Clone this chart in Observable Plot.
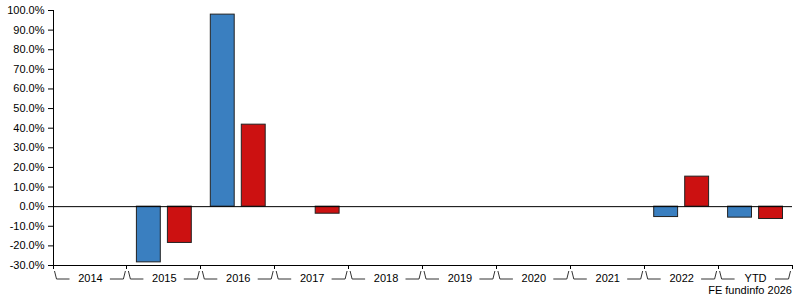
<!DOCTYPE html>
<html>
<head>
<meta charset="utf-8">
<script src="https://cdn.jsdelivr.net/npm/d3@7"></script>
<script src="https://cdn.jsdelivr.net/npm/@observablehq/plot@0.6"></script>
<style>
  body { margin: 0; background: #fff; font-family: "Liberation Sans", Arial, sans-serif; }
  #chart svg { display: block; }
  #caption { width: 795px; box-sizing: border-box; text-align: right; padding-right: 3px; font-size: 11px; line-height: 13px; color: #000; }
</style>
</head>
<body>
<div id="chart"></div>
<div id="caption">FE fundinfo 2026</div>
<script>
const categories = ["2014", "2015", "2016", "2017", "2018", "2019", "2020", "2021", "2022", "YTD"];
const fundValues = [null, -28.4, 97.9, null, null, null, null, null, -5.3, -5.6];
const sectorValues = [null, -18.5, 41.8, -3.6, null, null, null, null, 15.3, -6.3];
const yTicks = [-30, -20, -10, 0, 10, 20, 30, 40, 50, 60, 70, 80, 90, 100];

const fund = categories.map((c, i) => ({cat: c, v: fundValues[i]})).filter(d => d.v != null);
const sector = categories.map((c, i) => ({cat: c, v: sectorValues[i]})).filter(d => d.v != null);

const ns = "http://www.w3.org/2000/svg";
function decorations(index, scales, values, dims) {
  const g = document.createElementNS(ns, "g");
  const x = scales.x, y = scales.y;
  const bw = x.bandwidth ? x.bandwidth() : (x(categories[1]) - x(categories[0]));
  const y0 = y(-30), yTop = y(100);
  const left = x(categories[0]);
  const right = x(categories[categories.length - 1]) + bw;
  let d = `M${left},${yTop}V${y0}`;
  const bounds = categories.map(c => x(c)).concat([right]);
  for (const b of bounds) d += `M${b},${y0}V${y0 + 4}`;
  const line = document.createElementNS(ns, "path");
  line.setAttribute("d", d);
  line.setAttribute("stroke", "#000");
  line.setAttribute("fill", "none");
  line.setAttribute("shape-rendering", "crispEdges");
  g.appendChild(line);
  let bd = "";
  const yb = y0 + 14, yp = y0 + 6;
  for (const c of categories) {
    const L = x(c), R = L + bw;
    bd += `M${L + 1.5},${yp}L${L + 3.5},${yb}L${L + 16.5},${yb}`;
    bd += `M${R - 17},${yb}L${R - 3.5},${yb}L${R - 1.5},${yp}`;
  }
  const br = document.createElementNS(ns, "path");
  br.setAttribute("d", bd);
  br.setAttribute("stroke", "#333");
  br.setAttribute("fill", "none");
  g.appendChild(br);
  return g;
}

const fmt = d => d.toFixed(1) + "%";

const plot = Plot.plot({
  width: 795,
  height: 284,
  marginTop: 10,
  marginBottom: 19,
  marginLeft: 53,
  marginRight: 3,
  style: {fontFamily: "'Liberation Sans', Arial, sans-serif", fontSize: "11px", color: "#000", background: "#fff"},
  x: {type: "band", domain: categories, padding: 0, round: false, axis: null, label: null},
  y: {domain: [-30, 100], axis: null, label: null},
  marks: [
    Plot.axisY({ticks: yTicks, tickFormat: fmt, tickSize: 5, tickPadding: 4, stroke: "#000", fill: "#000", label: null}),
    Plot.axisX({tickSize: 0, tickPadding: 9, fill: "#000", label: null}),
    Plot.barY(fund, {x: "cat", y: "v", fill: "#3a7fc0", stroke: "#222", strokeWidth: 1, insetLeft: 9.5, insetRight: 40.5}),
    Plot.barY(sector, {x: "cat", y: "v", fill: "#cc1111", stroke: "#222", strokeWidth: 1, insetLeft: 40.5, insetRight: 9.5}),
    Plot.ruleY([0], {stroke: "#000", strokeWidth: 1}),
    Plot.ruleY([-30], {stroke: "#000", strokeWidth: 1}),
    decorations
  ]
});
document.getElementById("chart").appendChild(plot);
</script>
</body>
</html>
